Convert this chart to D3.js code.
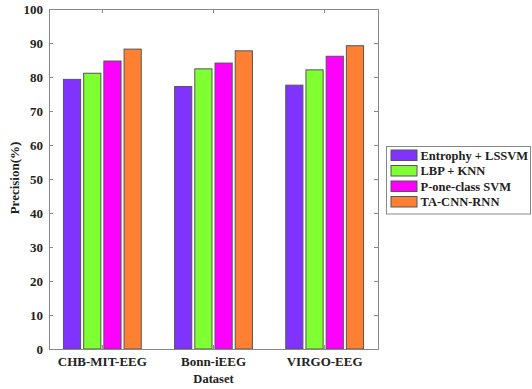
<!DOCTYPE html>
<html>
<head>
<meta charset="utf-8">
<script src="https://cdn.jsdelivr.net/npm/d3@7"></script>
<style>
  body { margin: 0; background: #fff; }
  text { font-family: "Liberation Serif", "Times New Roman", serif; font-weight: bold; }
</style>
</head>
<body>
<div id="chart"></div>
<script>
// data
var datasets = ["CHB-MIT-EEG", "Bonn-iEEG", "VIRGO-EEG"];
var methods = ["Entrophy + LSSVM", "LBP + KNN", "P-one-class SVM", "TA-CNN-RNN"];
var entropyLssvm = [79.3, 77.2, 77.6];
var lbpKnn = [81.1, 82.4, 82.1];
var pOneClassSvm = [84.7, 84.1, 86.1];
var taCnnRnn = [88.2, 87.7, 89.2];
var yTicks = [0, 10, 20, 30, 40, 50, 60, 70, 80, 90, 100];
var colors = ["#8033ff", "#80ff33", "#ff00ff", "#ff8033"];

var series = [entropyLssvm, lbpKnn, pOneClassSvm, taCnnRnn];

var w = 532, h = 389;
// plot box (note: "top" is reserved on window, so use pTop etc.)
var pLeft = 49, pRight = 378, pTop = 9, pBottom = 349;

var svg = d3.select("#chart").append("svg")
    .attr("width", w)
    .attr("height", h);

var x0 = d3.scaleBand().domain(datasets).range([pLeft, pRight]).paddingInner(0.3).paddingOuter(0.13);
var x1 = d3.scaleBand().domain(d3.range(methods.length)).range([0, x0.bandwidth()]).paddingInner(0.15);
var y = d3.scaleLinear().domain([0, 100]).range([pBottom, pTop]);

// bars
var groups = svg.selectAll(".grp")
    .data(datasets)
    .enter().append("g")
    .attr("transform", function (d) { return "translate(" + x0(d) + ",0)"; });

groups.selectAll("rect")
    .data(function (d, gi) { return series.map(function (s, i) { return { i: i, v: s[gi] }; }); })
    .enter().append("rect")
    .attr("x", function (d) { return x1(d.i); })
    .attr("width", x1.bandwidth())
    .attr("y", function (d) { return y(d.v); })
    .attr("height", function (d) { return y(0) - y(d.v); })
    .attr("fill", function (d) { return colors[d.i]; })
    .attr("stroke", "#555")
    .attr("stroke-width", 1);

// axes box
var axisColor = "#888";
var yAxis = svg.append("g").attr("transform", "translate(" + pLeft + ",0)")
    .call(d3.axisLeft(y).tickValues(yTicks).tickSizeInner(-4).tickSizeOuter(0).tickPadding(6));
var yAxisR = svg.append("g").attr("transform", "translate(" + pRight + ",0)")
    .call(d3.axisRight(y).tickValues(yTicks).tickSizeInner(-4).tickSizeOuter(0).tickFormat(""));
var xAxis = svg.append("g").attr("transform", "translate(0," + pBottom + ")")
    .call(d3.axisBottom(x0).tickSizeInner(-4).tickSizeOuter(0).tickPadding(7.5));
var xAxisT = svg.append("g").attr("transform", "translate(0," + pTop + ")")
    .call(d3.axisTop(x0).tickSizeInner(-4).tickSizeOuter(0).tickFormat(""));

[yAxis, yAxisR, xAxis, xAxisT].forEach(function (a) {
    a.selectAll("path, line").attr("stroke", axisColor);
    a.selectAll("text").attr("fill", "#222").style("font-size", "13px")
        .style("font-family", "'Liberation Serif', serif").style("font-weight", "bold");
});

// axis titles
svg.append("text")
    .attr("x", x0("Bonn-iEEG") + x0.bandwidth() / 2)
    .attr("y", 382.5)
    .attr("text-anchor", "middle")
    .attr("fill", "#222")
    .style("font-size", "12.5px")
    .text("Dataset");

svg.append("text")
    .attr("transform", "translate(19,178) rotate(-90)")
    .attr("text-anchor", "middle")
    .attr("fill", "#222")
    .style("font-size", "13px")
    .text("Precision(%)");

// legend
var lg = svg.append("g").attr("transform", "translate(386.5,146.5)");
lg.append("rect")
    .attr("width", 144).attr("height", 67.5)
    .attr("fill", "#fff").attr("stroke", "#888");
var rows = lg.selectAll(".row")
    .data(methods)
    .enter().append("g")
    .attr("transform", function (d, i) { return "translate(4.5," + (3.5 + i * 15.5) + ")"; });
rows.append("rect")
    .attr("width", 26).attr("height", 10.5)
    .attr("fill", function (d, i) { return colors[i]; })
    .attr("stroke", "#555");
rows.append("text")
    .attr("x", 29.5).attr("y", 9.5)
    .attr("fill", "#222")
    .style("font-size", "12.5px")
    .text(function (d) { return d; });
</script>
</body>
</html>
